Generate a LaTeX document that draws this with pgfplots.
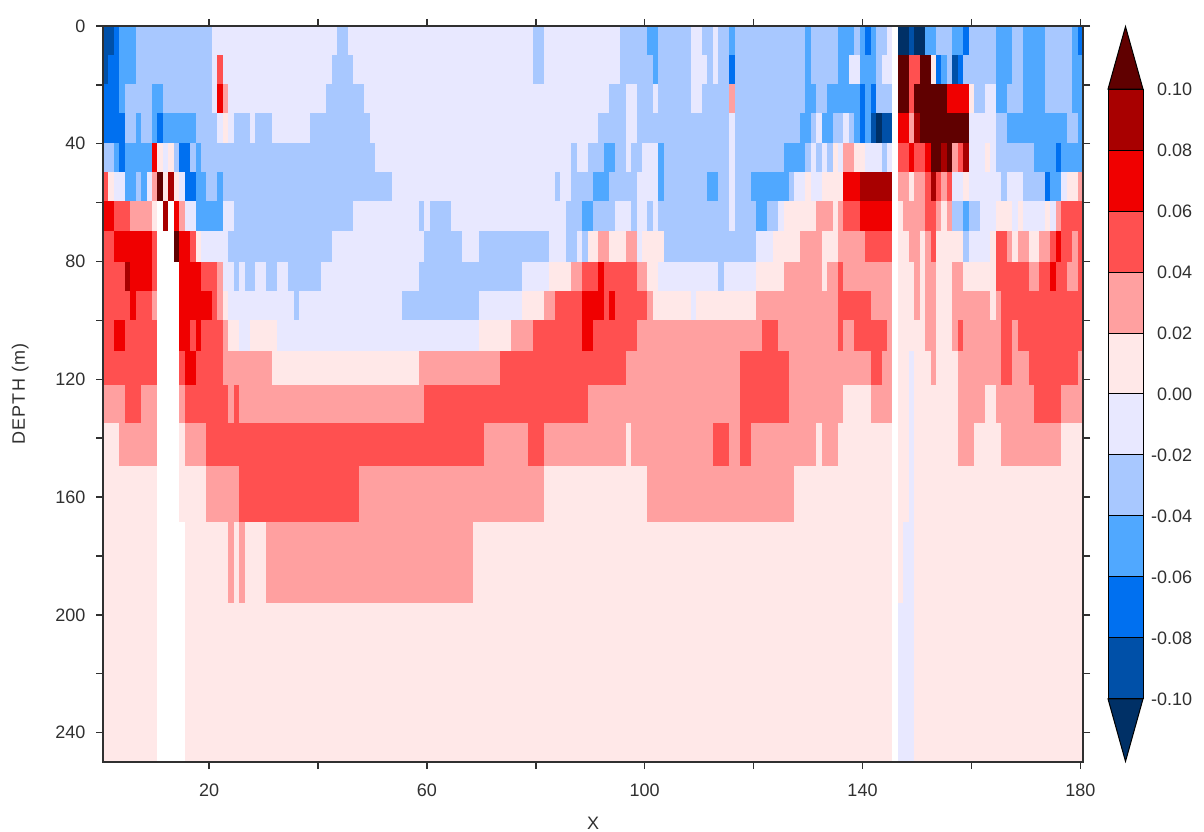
\documentclass[border=0pt]{standalone}
\usepackage{pgfplots}
\pgfplotsset{compat=1.18}
\usepackage{fontspec}
\setmainfont{Liberation Sans}
\definecolor{a}{HTML}{003066}
\definecolor{b}{HTML}{0050A8}
\definecolor{c}{HTML}{0070F0}
\definecolor{d}{HTML}{50A8FF}
\definecolor{e}{HTML}{A8C8FF}
\definecolor{f}{HTML}{E8E8FF}
\definecolor{g}{HTML}{FFE8E8}
\definecolor{h}{HTML}{FFA0A0}
\definecolor{i}{HTML}{FF5050}
\definecolor{j}{HTML}{F00000}
\definecolor{k}{HTML}{A80000}
\definecolor{l}{HTML}{600000}
\definecolor{w}{HTML}{FFFFFF}
\definecolor{axc}{HTML}{303030}
% one row of the section: top depth, then start column/class of each run.
% Each run is painted to the right edge and the bottom, later runs paint over it.
\newcommand\Row[2]{%
  \foreach \nn/\cc in {#2}{%
    \edef\temp{\noexpand\addplot[fill=\cc,draw=none,forget plot] coordinates
      {(\nn.5,#1) (180.5,#1) (180.5,250) (\nn.5,250)} --cycle;}%
    \temp
  }%
}
\newcommand\Seg[3]{\addplot[fill=#1,draw=black,line width=1pt,forget plot] coordinates {(0,#2) (1,#2) (1,#3) (0,#3)} --cycle;}
\newcommand\BL[1]{\makebox[47pt][r]{#1}}
\begin{document}
\begin{tikzpicture}[x=1pt,y=1pt]
\useasboundingbox (0,0) rectangle (1204,832);
\begin{axis}[
  at={(103pt,70pt)},anchor=south west,
  scale only axis,width=980pt,height=736pt,
  xmin=0.5,xmax=180.5,ymin=0,ymax=250,y dir=reverse,
  axis on top,
  axis line style={line width=1.6pt,color=axc},
  tick style={line width=1.4pt,color=axc},
  tick align=outside,tick pos=both,major tick length=7pt,
  xtick={20,40,...,180},xticklabels={20,,60,,100,,140,,180},
  ytick={0,20,...,240},yticklabels={0,,40,,80,,120,,160,,200,,240},
  xticklabel pos=bottom,yticklabel pos=left,
  ticklabel style={font=\fontsize{18}{20}\selectfont,color=axc},
  xticklabel style={yshift=-11pt},
  yticklabel style={xshift=-7pt},
  xlabel={X},ylabel={\addfontfeature{LetterSpace=6}DEPTH (m)},
  label style={font=\fontsize{18}{20}\selectfont,color=axc},
  xlabel style={yshift=-14pt},
  ylabel style={yshift=20pt},
]
\Row{0}{0/b,2/c,3/d,6/e,20/f,43/e,45/f,79/e,81/f,95/e,100/d,102/e,108/f,110/e,112/f,113/e,115/d,116/e,129/d,130/e,135/d,138/e,139/d,140/c,141/d,142/e,144/f,145/w,146/a,148/b,149/a,151/d,153/e,156/d,158/c,159/e,164/d,167/e,169/d,173/e,178/d,179/c}
\Row{9.7}{0/b,1/c,3/d,6/e,20/f,21/i,22/f,42/e,46/f,79/e,81/f,95/e,101/d,102/e,108/f,111/e,112/f,113/e,115/c,116/e,129/d,130/e,135/d,137/f,139/d,142/e,143/f,145/w,146/l,148/i,150/l,152/g,153/c,154/d,155/e,156/b,157/c,158/e,164/d,167/e,169/d,173/e,178/d}
\Row{19.7}{0/c,3/d,4/e,9/d,11/e,20/f,21/j,22/h,23/f,41/e,48/f,93/e,96/f,98/e,101/f,102/e,108/f,110/e,115/h,116/e,129/d,131/e,133/d,139/c,140/d,141/c,142/e,145/w,146/l,148/i,149/l,155/j,159/g,160/e,162/f,164/d,166/e,169/d,173/e,178/d}
\Row{29.5}{0/c,4/e,6/d,7/e,9/d,10/c,11/d,17/e,21/f,22/g,23/f,24/e,27/f,28/e,31/f,38/e,49/f,91/e,96/f,98/e,115/f,116/e,128/d,130/e,131/f,132/d,134/e,136/f,137/e,138/d,139/c,140/d,141/b,142/a,143/b,145/w,146/j,148/h,149/k,150/l,159/f,164/e,166/d,177/e,179/d}
\Row{39.7}{0/e,2/d,3/c,4/d,9/j,10/g,11/f,12/g,13/e,14/c,16/e,17/d,18/e,50/f,86/e,87/f,89/e,92/d,94/e,96/f,97/e,99/f,102/d,103/e,115/f,116/e,125/d,129/e,130/f,131/e,132/f,133/e,134/g,135/f,136/h,138/g,140/f,143/e,144/f,145/w,146/i,148/j,149/i,151/j,152/l,154/k,155/l,156/h,157/i,158/k,159/f,162/g,163/f,164/e,171/d,175/c,176/d}
\Row{49.6}{0/i,1/g,2/f,4/d,6/e,7/d,8/f,9/h,10/l,11/g,12/k,13/g,14/f,15/c,17/d,19/e,21/d,22/e,53/f,83/e,84/f,86/e,90/d,93/e,98/f,102/d,103/e,111/d,113/e,115/f,116/e,119/d,126/e,127/f,129/g,130/f,132/g,136/j,139/k,145/w,146/h,148/g,149/h,151/i,152/k,153/i,154/h,155/i,156/f,158/g,159/f,165/e,166/f,169/e,173/c,174/d,176/f,177/g,179/h}
\Row{59.5}{0/j,2/i,5/h,9/g,10/w,11/k,12/w,13/j,14/h,15/f,17/d,22/f,24/e,46/f,58/e,59/f,60/e,64/f,85/e,88/d,90/e,94/f,97/e,98/f,100/e,101/f,102/e,115/f,116/e,120/d,122/e,124/f,125/g,131/h,134/g,135/h,136/i,139/j,145/w,146/g,147/h,151/i,153/h,154/g,155/h,156/e,158/d,159/e,161/f,164/g,167/f,168/g,169/f,173/g,174/f,175/h,176/i}
\Row{69.6}{0/i,2/j,9/i,10/w,13/l,14/j,16/i,17/g,18/f,23/e,42/f,59/e,66/f,69/e,82/f,85/e,87/f,88/e,89/g,91/h,93/g,96/h,98/f,99/g,103/e,120/f,123/g,128/h,132/g,135/h,140/i,145/w,146/g,148/h,150/g,151/h,152/i,153/g,158/e,159/f,163/g,164/i,166/h,167/g,168/h,170/g,172/h,174/i,175/j,176/i,178/h,179/i}
\Row{80}{0/i,4/k,5/j,9/i,10/w,14/j,18/i,21/h,22/f,24/e,25/f,26/e,28/f,30/e,32/f,34/e,40/f,58/e,77/f,82/g,86/h,88/i,91/j,92/i,98/h,100/g,102/f,113/e,114/f,120/g,125/h,132/g,133/h,135/i,136/h,145/w,146/g,149/h,150/g,151/h,153/g,156/h,158/g,164/i,170/h,172/i,174/j,175/i,177/h,179/i}
\Row{90}{0/i,5/j,6/i,9/h,10/w,14/j,20/i,21/h,22/g,23/f,35/e,36/f,55/e,69/f,77/g,81/h,83/i,88/j,92/i,93/j,94/i,100/h,101/g,108/f,109/g,120/h,135/i,141/h,145/w,146/g,149/h,150/g,151/h,153/g,156/h,163/g,164/h,165/i}
\Row{100}{0/i,2/j,4/i,10/w,14/j,16/i,17/j,18/i,22/h,23/g,25/f,27/g,32/f,69/g,75/h,79/i,88/j,90/i,98/h,121/i,124/h,135/i,136/h,138/i,144/h,145/w,146/g,151/h,153/g,156/h,157/i,158/h,165/i,167/h,168/i}
\Row{110.5}{0/i,10/w,14/i,15/j,17/i,22/h,31/g,58/h,73/i,96/h,117/i,126/h,141/i,143/h,145/w,146/g,148/f,149/g,152/h,153/g,157/h,165/i,167/h,170/i,179/h}
\Row{122}{0/h,4/i,7/h,10/w,14/h,15/i,23/h,24/i,25/h,59/i,89/h,117/i,126/h,136/g,141/h,145/w,146/g,148/f,149/g,157/h,162/g,164/h,171/i,176/h}
\Row{135}{0/g,3/h,10/w,14/g,15/h,19/i,70/h,78/i,81/h,96/g,97/h,112/i,115/h,117/i,119/h,131/g,132/h,135/g,145/w,146/g,148/f,149/g,157/h,160/g,165/h,176/g}
\Row{149.5}{0/g,10/w,14/g,19/h,25/i,47/h,81/g,100/h,127/g,145/w,146/g,148/f,149/g}
\Row{168.5}{0/g,10/w,15/g,23/h,24/g,25/h,26/g,30/h,68/g,145/w,146/g,147/f,149/g}
\Row{196}{0/g,10/w,15/g,145/w,146/f,149/g}
\end{axis}
\begin{axis}[
  at={(1108pt,70pt)},anchor=south west,
  scale only axis,width=35pt,height=736pt,
  xmin=0,xmax=1,ymin=-0.1207,ymax=0.1207,
  axis line style={draw=none},
  clip=false,
  xtick=\empty,
  ytick={-0.10,-0.08,-0.06,-0.04,-0.02,0,0.02,0.04,0.06,0.08,0.10},
  yticklabels={\BL{-0.10},\BL{-0.08},\BL{-0.06},\BL{-0.04},\BL{-0.02},\BL{0.00},\BL{0.02},\BL{0.04},\BL{0.06},\BL{0.08},\BL{0.10}},
  yticklabel pos=right,
  major tick length=0pt,
  ticklabel style={font=\fontsize{18}{20}\selectfont,color=axc},
  yticklabel style={inner sep=0pt,xshift=2pt},
]
\addplot[fill=a,draw=black,line width=1pt,forget plot] coordinates {(0,-0.1) (1,-0.1) (0.5,-0.1205)} --cycle;
\Seg{b}{-0.10}{-0.08}
\Seg{c}{-0.08}{-0.06}
\Seg{d}{-0.06}{-0.04}
\Seg{e}{-0.04}{-0.02}
\Seg{f}{-0.02}{0}
\Seg{g}{0}{0.02}
\Seg{h}{0.02}{0.04}
\Seg{i}{0.04}{0.06}
\Seg{j}{0.06}{0.08}
\Seg{k}{0.08}{0.10}
\addplot[fill=l,draw=black,line width=1pt,forget plot] coordinates {(0,0.1) (1,0.1) (0.5,0.1205)} --cycle;
\end{axis}
\end{tikzpicture}
\end{document}
